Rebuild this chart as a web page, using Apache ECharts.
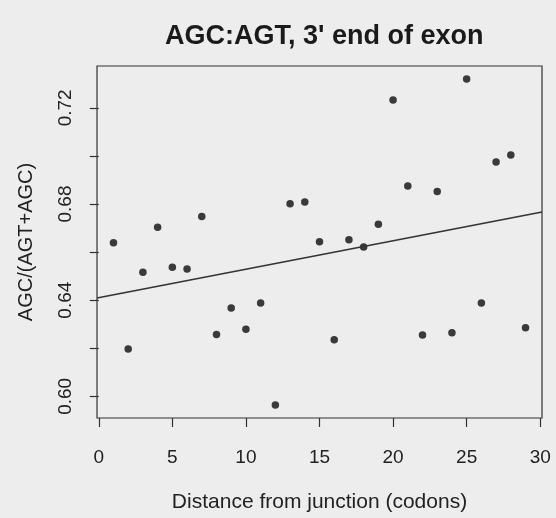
<!DOCTYPE html>
<html>
<head>
<meta charset="utf-8">
<script src="https://cdn.jsdelivr.net/npm/echarts@6/dist/echarts.min.js"></script>
<style>
html,body{margin:0;padding:0;background:#ededed;}
#chart{width:556px;height:518px;}
</style>
</head>
<body>
<div id="chart"></div>
<script>
// Data
const distance = [1,2,3,4,5,6,7,8,9,10,11,12,13,14,15,16,17,18,19,20,21,22,23,24,25,26,27,28,29];
const ratio = [0.6639,0.6197,0.6516,0.6703,0.6537,0.6530,0.6748,0.6257,0.6367,0.6279,
               0.6388,0.5964,0.6801,0.6808,0.6643,0.6235,0.6651,0.6621,0.6716,0.7233,
               0.6875,0.6255,0.6852,0.6264,0.7320,0.6388,0.6975,0.7004,0.6285];
const xTicks = [0,5,10,15,20,25,30];
const yTicks = [0.60,0.62,0.64,0.66,0.68,0.70,0.72];
const yTickLabels = [0.60,0.64,0.68,0.72];

// R-style 4% axis range extension
function ext(arr){const mn=Math.min(...arr),mx=Math.max(...arr),d=(mx-mn)*0.04;return [mn-d,mx+d];}
const [xmin,xmax] = ext(distance);
const [ymin,ymax] = ext(ratio);

// least squares fit (abline(lm(...)))
const n = distance.length;
const mx = distance.reduce((a,b)=>a+b,0)/n;
const my = ratio.reduce((a,b)=>a+b,0)/n;
let sxy=0,sxx=0;
for(let i=0;i<n;i++){sxy+=(distance[i]-mx)*(ratio[i]-my);sxx+=(distance[i]-mx)*(distance[i]-mx);}
const slope = sxy/sxx, intercept = my - slope*mx;
const fitLine = [[xmin, intercept+slope*xmin],[xmax, intercept+slope*xmax]];

const font = "'Liberation Sans', Arial, sans-serif";
const textColor = '#222';

const chart = echarts.init(document.getElementById('chart'), null, {renderer:'canvas'});
chart.setOption({
  backgroundColor:'#ededed',
  animation:false,
  title:{
    text:"AGC:AGT, 3' end of exon",
    left:165,
    top:23,
    padding:0,
    textStyle:{fontFamily:font,fontWeight:'bold',fontSize:27,color:'#1a1a1a'}
  },
  grid:{left:97,right:14,top:66,bottom:97,show:true,borderColor:'#333',borderWidth:1.2,backgroundColor:'transparent'},
  xAxis:{
    type:'value',min:xmin,max:xmax,
    name:'Distance from junction (codons)',nameLocation:'middle',nameGap:74,
    nameTextStyle:{fontFamily:font,fontSize:21,color:textColor},
    axisLine:{show:false},
    splitLine:{show:false},
    axisTick:{show:true,inside:false,length:9,customValues:xTicks,lineStyle:{color:'#333',width:1.2}},
    axisLabel:{show:true,margin:30,customValues:xTicks,fontFamily:font,fontSize:19,color:textColor,
      formatter:v=>String(Math.round(v))}
  },
  yAxis:{
    type:'value',min:ymin,max:ymax,
    name:'AGC/(AGT+AGC)',nameLocation:'middle',nameGap:61,
    nameTextStyle:{fontFamily:font,fontSize:20,color:textColor},
    axisLine:{show:false},
    splitLine:{show:false},
    axisTick:{show:true,inside:false,length:9,customValues:yTicks,lineStyle:{color:'#333',width:1.2}},
    axisLabel:{show:true,rotate:90,margin:22,customValues:yTickLabels,fontFamily:font,fontSize:19,color:textColor,
      formatter:v=>v.toFixed(2)}
  },
  series:[
    {type:'scatter',data:distance.map((d,i)=>[d,ratio[i]]),symbol:'circle',symbolSize:7.5,
      itemStyle:{color:'#0d0d0d'},silent:true},
    {type:'line',data:fitLine,showSymbol:false,clip:true,lineStyle:{color:'#333',width:1.5},silent:true}
  ]
});
</script>
</body>
</html>
